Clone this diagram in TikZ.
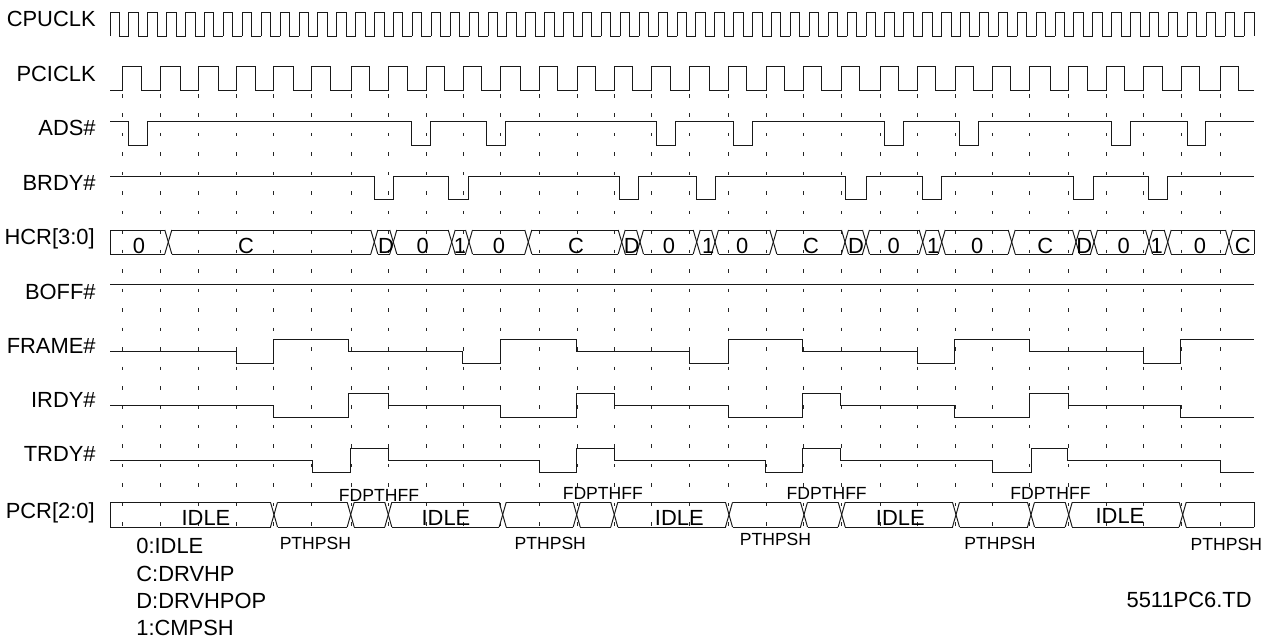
\documentclass[tikz,border=0pt]{standalone}
\usepackage{fontspec}
\setmainfont{Liberation Sans}

\tikzset{
	sig/.style={line width=0.55pt, black!90},
	griddash/.style={line width=0.55pt, black!85, dash pattern=on 2pt off 9.08pt},
	biglabel/.style={inner sep=0pt, font=\fontsize{12.47}{14}\selectfont},
	smalllabel/.style={inner sep=0pt, anchor=base, font=\fontsize{10}{12}\selectfont},
	namelabel/.style={biglabel, anchor=base east},
	buslabel/.style={biglabel, anchor=base},
	keylabel/.style={biglabel, anchor=base west}
}

\begin{document}
\begin{tikzpicture}[x=0.02cm,y=-0.02cm]
		\useasboundingbox (0,0) rectangle (1276,639) ;
		
		\node[namelabel] (cpuclk) at (96,26.2) {CPUCLK} ;
		\node[namelabel] (pciclk) at (96,81.6) {PCICLK} ;
		\node[namelabel] (ads) at (96,135.4) {ADS\#} ;
		\node[namelabel] (brdy) at (96,190) {BRDY\#} ;
		\node[namelabel] (hcr) at (95,244.6) {HCR[3:0]} ;
		\node[namelabel] (boff) at (96,299.2) {BOFF\#} ;
		\node[namelabel] (frame) at (96,353.4) {FRAME\#} ;
		\node[namelabel] (irdy) at (96,407.9) {IRDY\#} ;
		\node[namelabel] (trdy) at (96,461.9) {TRDY\#} ;
		\node[namelabel] (pcr) at (95,518.6) {PCR[2:0]} ;
		
		\foreach \x in {122,160,198,236,273,311,351,388,426,463,500,539,577,614,651,689,728,766,803,841,880,917,955,992,1029,1068,1106,1143,1181,1220}
			\draw[griddash] (\x,94) -- (\x,528) ;
		
		\foreach \k in {0,...,59}
			\draw[sig] (110+18.9*\k,36) |- ++(9.4,-23.5) -- ++(0,23.5) -- ++(9.5,0) ;
		\draw[sig] (1244,36) |- (1254,12.5) -- (1254,36) ;
		
		\draw[sig] (110,90.7) -| (122,66.7) -| (141,90.7) -| (160,66.7) -| (180.3,90.7) -| (198,66.7) -| (218.3,90.7) -| (236,66.7) -| (255.3,90.7) -| (273,66.7) -| (293,90.7) -| (311,66.7) -| (330.3,90.7) -| (351,66.7) -| (369,90.7) -| (388,66.7) -| (407.3,90.7) -| (426,66.7) -| (444,90.7) -| (463,66.7) -| (481,90.7) -| (500,66.7) -| (520,90.7) -| (539,66.7) -| (557.3,90.7) -| (577,66.7) -| (595,90.7) -| (614,66.7) -| (632.7,90.7) -| (651,66.7) -| (670,90.7) -| (689,66.7) -| (709.3,90.7) -| (728,66.7) -| (746.7,90.7) -| (766,66.7) -| (784.3,90.7) -| (803,66.7) -| (821.7,90.7) -| (841,66.7) -| (859.3,90.7) -| (880,66.7) -| (898.3,90.7) -| (917,66.7) -| (935.7,90.7) -| (955,66.7) -| (973,90.7) -| (992,66.7) -| (1010.3,90.7) -| (1029,66.7) -| (1050,90.7) -| (1068,66.7) -| (1087.3,90.7) -| (1106,66.7) -| (1124.7,90.7) -| (1143,66.7) -| (1162.3,90.7) -| (1181,66.7) -| (1199.3,90.7) -| (1220,66.7) -| (1238.7,90.7) -- (1254,90.7) ;
		
		\draw[sig] (110,121.3) -| (128.7,145.3) -| (147.7,121.3) -| (411.7,145.3) -| (430,121.3) -| (486.3,145.3) -| (505.7,121.3) -| (656.7,145.3) -| (675.3,121.3) -| (733.3,145.3) -| (752.3,121.3) -| (884.7,145.3) -| (903.3,121.3) -| (959.7,145.3) -| (978.3,121.3) -| (1111.3,145.3) -| (1130.3,121.3) -| (1187.7,145.3) -| (1205.3,121.3) -- (1254,121.3) ;
		
		\draw[sig] (110,176) -| (374,199.7) -| (393,176) -| (448.7,199.7) -| (468,176) -| (619.3,199.7) -| (638,176) -| (696,199.7) -| (715,176) -| (845.7,199.7) -| (866.3,176) -| (922.3,199.7) -| (941,176) -| (1073.7,199.7) -| (1093,176) -| (1148.7,199.7) -| (1167.7,176) -- (1254,176) ;
		
		\draw[sig] (110,230) -- (110,254) ;
		\draw[sig] (1254,230) -- (1254,254) ;
		\foreach \t [remember=\t as \p (initially 106.5)] in {168.3,374.3,393.3,451.7,469,528.3,621.7,640,696.7,715,773.3,845,866,922.7,941.7,1011.7,1076,1094,1149,1167.7,1229,1257.5} {
			\draw[sig] (\p+3.5,230) -- (\t-3.5,230) ;
			\draw[sig] (\p+3.5,254) -- (\t-3.5,254) ;
		}
		\foreach \t in {168.3,374.3,393.3,451.7,469,528.3,621.7,640,696.7,715,773.3,845,866,922.7,941.7,1011.7,1076,1094,1149,1167.7,1229} {
			\draw[sig] (\t-3.5,230) -- (\t+3.5,254) ;
			\draw[sig] (\t-3.5,254) -- (\t+3.5,230) ;
		}
		\foreach \x/\v [count=\i] in {139/0,246/C,386/D,422.7/0,460/1,499/0,576/C,631.7/D,669/0,708.3/1,742.3/0,811/C,856/D,893.7/0,933.3/1,977.3/0,1045.3/C,1084.3/D,1123.7/0,1156.7/1,1200/0,1242.7/C}
			\node[buslabel] (hcr_\i) at (\x,253.3) {\v} ;
		
		\draw[sig] (110,284.3) -- (1254,284.3) ;
		
		\draw[sig] (110,351.3) -| (236,363.3) -| (273.3,339.3) -| (348.7,351.3) -| (462.7,363.3) -| (500,339.3) -| (576.7,351.3) -| (689,363.3) -| (728,339.3) -| (802.7,351.3) -| (917,363.3) -| (954.7,339.3) -| (1029.7,351.3) -| (1143.3,363.3) -| (1180.7,339.3) -- (1254,339.3) ;
		
		\draw[sig] (110,405.3) -| (273.3,417.7) -| (348.7,393.7) -| (388,405.3) -| (500,417.7) -| (576.7,393.7) -| (614,405.3) -| (728,417.7) -| (802.7,393.7) -| (840.7,405.3) -| (954.7,417.7) -| (1029.7,393.7) -| (1068.3,405.3) -| (1180.7,417.7) -- (1254,417.7) ;
		
		\draw[sig] (110,460) -| (312.7,472.3) -| (350.7,448.3) -| (388,460) -| (539,472.3) -| (576.7,448.3) -| (614,460) -| (765.7,472.3) -| (802.7,448.3) -| (840.7,460) -| (992,472.3) -| (1031,448.3) -| (1067,460) -| (1220,472.3) -- (1254,472.3) ;
		
		\draw[sig] (110,502.3) -- (110,527) ;
		\draw[sig] (1254,502.3) -- (1254,527) ;
		\foreach \t [remember=\t as \p (initially 106.5)] in {274,350.7,388.3,502.7,576.7,614.3,729,804,841.7,956,1031,1068.7,1182.7,1257.5} {
			\draw[sig] (\p+3.5,502.3) -- (\t-3.5,502.3) ;
			\draw[sig] (\p+3.5,527) -- (\t-3.5,527) ;
		}
		\foreach \t in {274,350.7,388.3,502.7,576.7,614.3,729,804,841.7,956,1031,1068.7,1182.7} {
			\draw[sig] (\t-3.5,502.3) -- (\t+3.5,527) ;
			\draw[sig] (\t-3.5,527) -- (\t+3.5,502.3) ;
		}
		
		\node[buslabel] (idle_a) at (206,525.6) {IDLE} ;
		\node[buslabel] (idle_b) at (446,525.6) {IDLE} ;
		\node[buslabel] (idle_c) at (679.3,525.6) {IDLE} ;
		\node[buslabel] (idle_d) at (900.3,525.6) {IDLE} ;
		\node[buslabel] (idle_e) at (1120,523) {IDLE} ;
		
		\node[smalllabel] (fdpthff_a) at (379,501) {FDPTHFF} ;
		\node[smalllabel] (fdpthff_b) at (602.8,499.3) {FDPTHFF} ;
		\node[smalllabel] (fdpthff_c) at (826.7,499.3) {FDPTHFF} ;
		\node[smalllabel] (fdpthff_d) at (1050.5,499.3) {FDPTHFF} ;
		
		\node[smalllabel] (pthpsh_a) at (315.4,549.3) {PTHPSH} ;
		\node[smalllabel] (pthpsh_b) at (550.3,549.3) {PTHPSH} ;
		\node[smalllabel] (pthpsh_c) at (775.5,545) {PTHPSH} ;
		\node[smalllabel] (pthpsh_d) at (1000,549.3) {PTHPSH} ;
		\node[smalllabel] (pthpsh_e) at (1226.3,550.7) {PTHPSH} ;
		
		\node[keylabel] (key_idle) at (136,553.4) {0:IDLE} ;
		\node[keylabel] (key_drvhp) at (136,581.2) {C:DRVHP} ;
		\node[keylabel] (key_drvhpop) at (136,608.2) {D:DRVHPOP} ;
		\node[keylabel] (key_cmpsh) at (136,635.9) {1:CMPSH} ;
		
		\node[namelabel] (figname) at (1252,607.9) {5511PC6.TD} ;
	\end{tikzpicture}
\end{document}
